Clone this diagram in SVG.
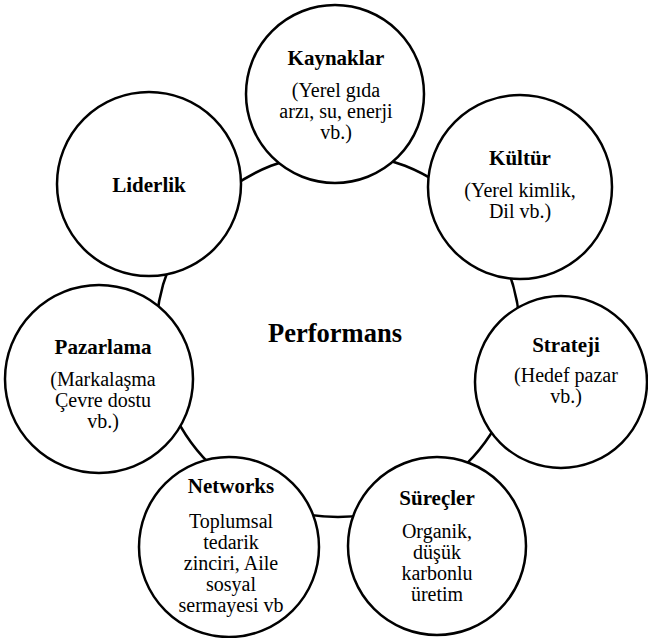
<svg xmlns="http://www.w3.org/2000/svg" width="648" height="638" viewBox="0 0 648 638">
  <style>
    .ring { fill: #ffffff; stroke: #000000; stroke-width: 2.5; }
    text { font-family: "Liberation Serif", "Times New Roman", serif; fill: #000000; text-anchor: middle; }
    .title { font-size: 21px; font-weight: bold; }
    .body { font-size: 20px; }
    .hub { font-size: 26.5px; font-weight: bold; }
  </style>
  <rect width="648" height="638" fill="#ffffff"/>

  <!-- central hub circle, drawn first so the outer circles sit on top -->
  <g id="performans">
    <circle class="ring" cx="338" cy="335" r="182"/>
    <text class="hub" x="335" y="342">Performans</text>
  </g>

  <g id="connectors"></g>

  <g id="kaynaklar">
    <circle class="ring" cx="335" cy="94" r="89"/>
    <text class="title" x="336" y="65">Kaynaklar</text>
    <text class="body" x="336" y="97">(Yerel gıda</text>
    <text class="body" x="336" y="118">arzı, su, enerji</text>
    <text class="body" x="336" y="139">vb.)</text>
  </g>

  <g id="kultur">
    <circle class="ring" cx="520" cy="187" r="92"/>
    <text class="title" x="520" y="165">Kültür</text>
    <text class="body" x="520" y="197">(Yerel kimlik,</text>
    <text class="body" x="520" y="218">Dil vb.)</text>
  </g>

  <g id="liderlik">
    <circle class="ring" cx="149" cy="184" r="92"/>
    <text class="title" x="149" y="192">Liderlik</text>
  </g>

  <g id="pazarlama">
    <circle class="ring" cx="99" cy="379" r="94"/>
    <text class="title" x="103" y="354">Pazarlama</text>
    <text class="body" x="103" y="386">(Markalaşma</text>
    <text class="body" x="103" y="407">Çevre dostu</text>
    <text class="body" x="103" y="428">vb.)</text>
  </g>

  <g id="strateji">
    <circle class="ring" cx="561" cy="382" r="86"/>
    <text class="title" x="566" y="352">Strateji</text>
    <text class="body" x="566" y="382">(Hedef pazar</text>
    <text class="body" x="566" y="403">vb.)</text>
  </g>

  <g id="networks">
    <circle class="ring" cx="229" cy="547" r="90"/>
    <text class="title" x="231" y="493">Networks</text>
    <text class="body" x="231" y="528">Toplumsal</text>
    <text class="body" x="231" y="549">tedarik</text>
    <text class="body" x="231" y="570">zinciri, Aile</text>
    <text class="body" x="231" y="591">sosyal</text>
    <text class="body" x="231" y="612">sermayesi vb</text>
  </g>

  <g id="surecler">
    <circle class="ring" cx="437" cy="546" r="89"/>
    <text class="title" x="437" y="505">Süreçler</text>
    <text class="body" x="437" y="538">Organik,</text>
    <text class="body" x="437" y="559">düşük</text>
    <text class="body" x="437" y="580">karbonlu</text>
    <text class="body" x="437" y="601">üretim</text>
  </g>
</svg>
